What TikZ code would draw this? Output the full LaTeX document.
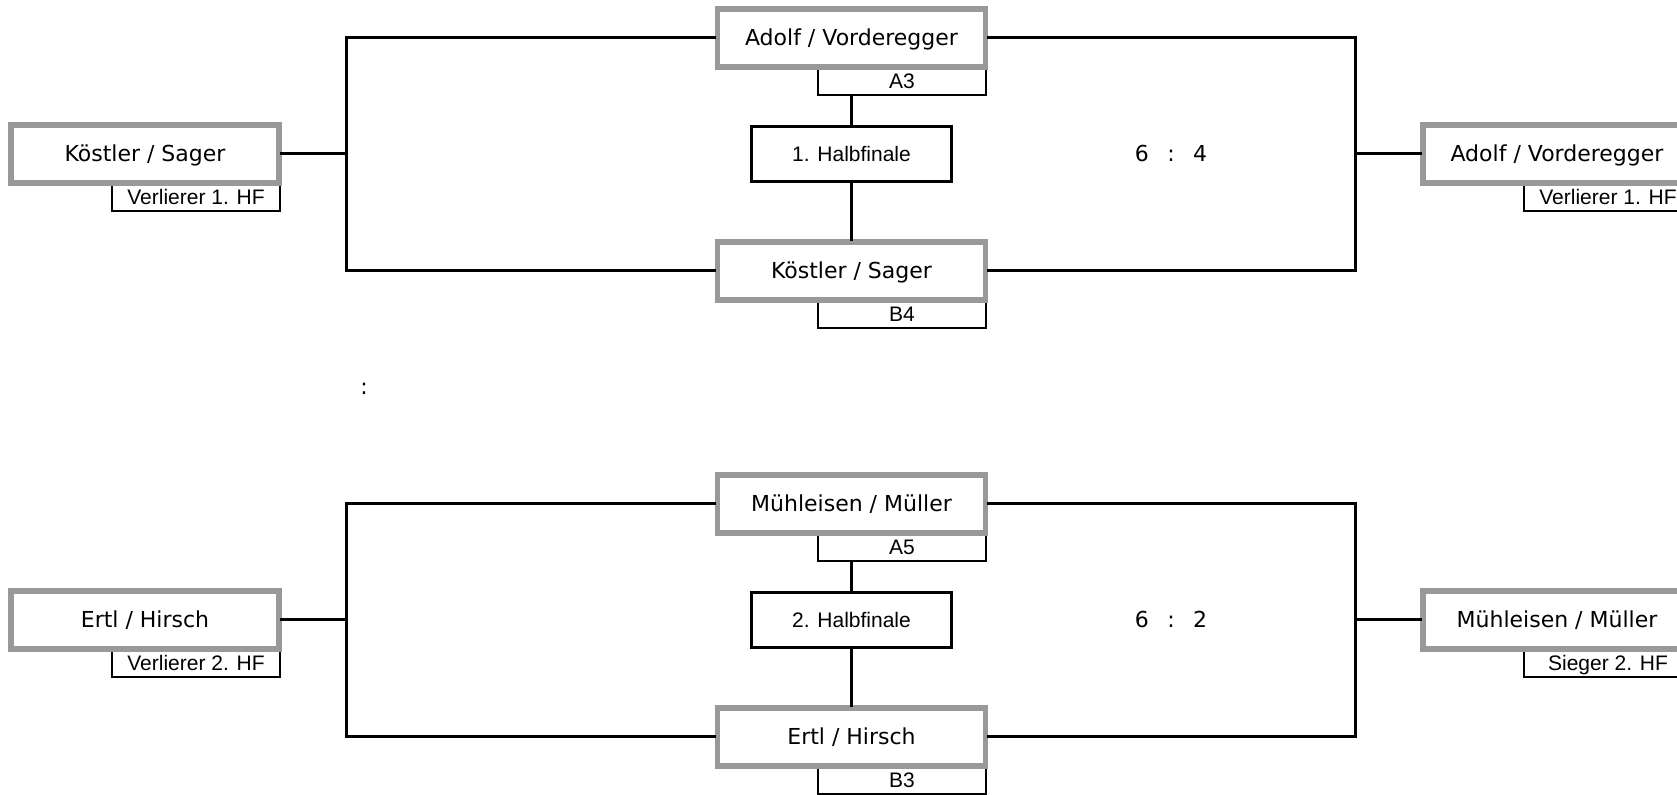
\documentclass[tikz,border=0pt]{standalone}
\usepackage{fontspec}
\setmainfont{DejaVu Sans}
\newfontfamily\arialf{Liberation Sans}
\definecolor{boxgray}{RGB}{153,153,153}
\begin{document}
\begin{tikzpicture}[x=0.5pt,y=-0.5pt,
  player/.style={draw=boxgray, line width=2.75pt, fill=white, minimum width=134pt, minimum height=29pt, inner sep=0pt, font=\fontsize{11}{13}\selectfont, text height=8pt, text depth=0pt},
  sidelbl/.style={draw=black, line width=1pt, fill=white, minimum width=84pt, minimum height=13.5pt, inner sep=0pt, font=\arialf\fontsize{10.5}{12}\selectfont, text height=7.5pt, text depth=0pt},
  ctrlbl/.style={sidelbl, minimum height=14.5pt},
  hfbox/.style={draw=black, line width=1.5pt, fill=white, minimum width=100pt, minimum height=27.5pt, inner sep=0pt, font=\arialf\fontsize{10.5}{12}\selectfont, text height=7.5pt, text depth=0pt},
  score/.style={inner sep=0pt, font=\fontsize{11}{13}\selectfont},
  wire/.style={line width=1.5pt, line cap=rect}]
\useasboundingbox (0,0) rectangle (1677,795);
\clip (0,0) rectangle (1677,795);
\fill[white] (0,0) rectangle (1677,795);

% ---------- section 1 ----------
\node[sidelbl] (lb1) at (196,197.5) {Verlierer 1. HF};
\node[ctrlbl] (a3) at (902,81) {A3};
\node[ctrlbl] (b4) at (902,314) {B4};
\node[sidelbl] (rl1) at (1608,197.5) {Verlierer 1. HF};

\node[player] (ls1) at (145,154) {Köstler / Sager};
\node[player] (t1) at (851.5,38) {Adolf / Vorderegger};
\node[hfbox] (hf1) at (851.5,154) {1. Halbfinale};
\node[player] (b1) at (851.5,271) {Köstler / Sager};
\node[player] (rs1) at (1557,154) {Adolf / Vorderegger};
\node[score, anchor=base] (s1) at (1171,162) {6\hspace{9.2pt}:\hspace{9.2pt}4};

\coordinate (jl1) at (346,154);
\coordinate (jr1) at (1355,154);
\draw[wire] (ls1.east) -- (jl1);
\draw[wire] (t1.west) -| (jl1) |- (b1.west);
\draw[wire] (rs1.west) -- (jr1);
\draw[wire] (t1.east) -| (jr1) |- (b1.east);
\draw[wire] (hf1.north |- a3.south) -- (hf1.north);
\draw[wire] (hf1.south) -- (b1.north);

% ---------- middle colon ----------
\node[score, anchor=base] (mid) at (364,395) {:};

% ---------- section 2 ----------
\node[sidelbl] (lb2) at (196,663.5) {Verlierer 2. HF};
\node[ctrlbl] (a5) at (902,547) {A5};
\node[ctrlbl] (b3) at (902,780) {B3};
\node[sidelbl] (rl2) at (1608,663.5) {Sieger 2. HF};

\node[player] (ls2) at (145,620) {Ertl / Hirsch};
\node[player] (t2) at (851.5,504) {Mühleisen / Müller};
\node[hfbox] (hf2) at (851.5,620) {2. Halbfinale};
\node[player] (b2) at (851.5,737) {Ertl / Hirsch};
\node[player] (rs2) at (1557,620) {Mühleisen / Müller};
\node[score, anchor=base] (s2) at (1171,628) {6\hspace{9.2pt}:\hspace{9.2pt}2};

\coordinate (jl2) at (346,620);
\coordinate (jr2) at (1355,620);
\draw[wire] (ls2.east) -- (jl2);
\draw[wire] (t2.west) -| (jl2) |- (b2.west);
\draw[wire] (rs2.west) -- (jr2);
\draw[wire] (t2.east) -| (jr2) |- (b2.east);
\draw[wire] (hf2.north |- a5.south) -- (hf2.north);
\draw[wire] (hf2.south) -- (b2.north);
\end{tikzpicture}
\end{document}
